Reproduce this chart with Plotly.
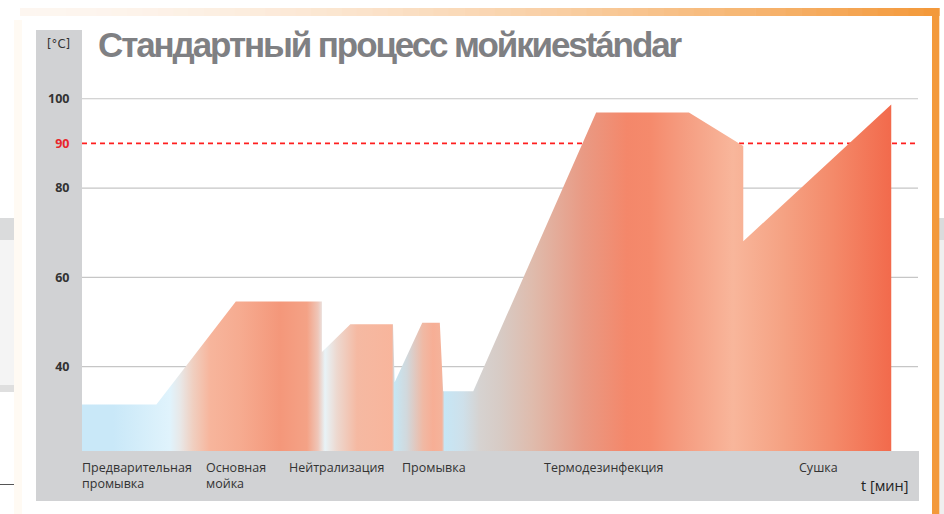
import plotly.graph_objects as go

# ---------------- data ----------------
time_min = [0.0, 8.9, 18.4, 28.7, 28.7, 32.1, 37.2, 37.4, 40.7, 42.8, 43.2, 46.8,
            61.5, 72.6, 79.1, 79.1, 96.8]
temperature_c = [31.5, 31.5, 54.6, 54.6, 43.3, 49.5, 49.5, 36.5, 49.8, 49.8, 34.5, 34.5,
                 96.9, 96.9, 89.4, 68.1, 98.7]

phase_labels = ["Предварительная<br>промывка", "Основная<br>мойка", "Нейтрализация",
                "Промывка", "Термодезинфекция", "Сушка"]
phase_label_t = [-0.24, 14.63, 24.49, 38.04, 54.99, 85.49]

y_ticks = [40, 60, 80, 90, 100]
y_grid = [40, 60, 80, 100]
limit_temp = 90

title_text = "Стандартный процесс мойкиestándar"
unit_y = "[°C]"
unit_x = "t [мин]"

# ---------------- layout geometry ----------------
W, H = 944, 514
L, R, T, B = 82, 918, 30, 451
X_RANGE = [0, 100]
Y_RANGE = [21.1, 115.4]


def px_x(px):
    return (px - L) / (R - L)


def px_y(py):
    return (B - py) / (B - T)


def t_paper(t):
    return (t - X_RANGE[0]) / (X_RANGE[1] - X_RANGE[0])


# horizontal gradient of the area (style)
grad_px = [
    (82, "#c9e8f8"), (113, "#c9e8f8"), (170, "#e0f3fc"), (180, "#e8e8e8"),
    (193, "#f0cfc0"), (210, "#f7b59c"), (240, "#f6ab90"), (280, "#f4977a"),
    (307, "#f4a286"), (318, "#efc6b8"), (325, "#e8f3f7"), (337, "#edd8cf"),
    (357, "#f5b9a2"), (392, "#f8b59c"), (394.5, "#c6e6f3"), (407, "#d1d8dc"),
    (423, "#f0b9a4"), (433, "#f7ae95"), (442, "#f5b39b"), (444.5, "#c6e6f5"),
    (463, "#cee0ea"), (480, "#d6d2d0"), (500, "#d7cbc5"), (533, "#dfbbac"),
    (583, "#e99a84"), (627, "#f4876a"), (650, "#f58a6c"), (683, "#f59c80"),
    (733, "#f8b69b"), (783, "#f5a283"), (833, "#f48a6a"), (891, "#f26a4c"),
]
colorscale = [[(p - L) / (R - L), c] for p, c in grad_px]
colorscale[0][0] = 0.0
colorscale.append([1.0, grad_px[-1][1]])

fig = go.Figure()
fig.add_trace(go.Scatter(
    x=time_min, y=temperature_c, mode="lines", line=dict(width=0),
    fill="tozeroy",
    fillgradient=dict(type="horizontal", colorscale=colorscale,
                      start=X_RANGE[0], stop=X_RANGE[1]),
    hoverinfo="skip", showlegend=False,
))

shapes = []
# decorative background bits (left / right of the frame)
shapes.append(dict(type="rect", xref="paper", yref="paper", x0=px_x(14), x1=px_x(22),
                   y0=px_y(514), y1=px_y(20), fillcolor="#fffaf3", line_width=0, layer="below"))
shapes.append(dict(type="rect", xref="paper", yref="paper", x0=px_x(0), x1=px_x(14),
                   y0=px_y(240), y1=px_y(218), fillcolor="#dadbdc", line_width=0, layer="below"))
shapes.append(dict(type="rect", xref="paper", yref="paper", x0=px_x(0), x1=px_x(14),
                   y0=px_y(385), y1=px_y(240), fillcolor="#f4f4f4", line_width=0, layer="below"))
shapes.append(dict(type="rect", xref="paper", yref="paper", x0=px_x(0), x1=px_x(14),
                   y0=px_y(392), y1=px_y(385), fillcolor="#dfdfdf", line_width=0, layer="below"))
shapes.append(dict(type="line", xref="paper", yref="paper", x0=px_x(0), x1=px_x(14),
                   y0=px_y(484.5), y1=px_y(484.5), line=dict(color="#555555", width=1), layer="below"))
shapes.append(dict(type="rect", xref="paper", yref="paper", x0=px_x(939), x1=px_x(944),
                   y0=px_y(240), y1=px_y(218), fillcolor="#dadbdc", line_width=0, layer="below"))
shapes.append(dict(type="rect", xref="paper", yref="paper", x0=px_x(939), x1=px_x(944),
                   y0=px_y(514), y1=px_y(240), fillcolor="#efefef", line_width=0, layer="below"))

# top gradient band of the frame
n_seg = 60
x_start, x_end = 20, 939
c0 = (253, 246, 240)
c1 = (243, 153, 59)
for i in range(n_seg):
    f = i / (n_seg - 1)
    f2 = f ** 1.6
    col = "rgb(%d,%d,%d)" % tuple(int(round(c0[k] + (c1[k] - c0[k]) * f2)) for k in range(3))
    xa = x_start + (x_end - x_start) * i / n_seg
    xb = x_start + (x_end - x_start) * (i + 1) / n_seg + 0.6
    shapes.append(dict(type="rect", xref="paper", yref="paper", x0=px_x(xa), x1=px_x(xb),
                       y0=px_y(16), y1=px_y(8), fillcolor=col, line_width=0, layer="below"))
# right orange bar
shapes.append(dict(type="rect", xref="paper", yref="paper", x0=px_x(932), x1=px_x(939.3),
                   y0=px_y(514), y1=px_y(8), fillcolor="#f3993b", line_width=0, layer="below"))

# grey y column & bottom band
shapes.append(dict(type="rect", xref="paper", yref="paper", x0=px_x(36), x1=px_x(82),
                   y0=px_y(501), y1=px_y(30), fillcolor="#d1d2d4", line_width=0, layer="below"))
shapes.append(dict(type="rect", xref="paper", yref="paper", x0=px_x(36), x1=px_x(919),
                   y0=px_y(501), y1=px_y(451), fillcolor="#d1d2d4", line_width=0, layer="below"))

# grid lines and limit line
for g in y_grid:
    shapes.append(dict(type="line", xref="paper", yref="y", x0=0, x1=1, y0=g, y1=g,
                       line=dict(color="#c6c6c6", width=1.2), layer="below"))
shapes.append(dict(type="line", xref="paper", yref="y", x0=0, x1=1, y0=limit_temp, y1=limit_temp,
                   line=dict(color="#ff1f1f", width=1.6, dash="5px,4px"), layer="below"))

ticktext = []
for v in y_ticks:
    if v == limit_temp:
        ticktext.append("<span style='color:#e8262c'>%d</span>" % v)
    else:
        ticktext.append(str(v))

narrow = "Liberation Sans Narrow, DejaVu Sans Condensed, Roboto Condensed, Arial Narrow, Roboto, sans-serif"

annotations = []
annotations.append(dict(text="<span style='letter-spacing:-2.1px'>%s</span>" % title_text,
                        xref="paper", yref="paper", x=px_x(96), y=px_y(44.5),
                        xanchor="left", yanchor="middle", showarrow=False,
                        font=dict(family="Liberation Sans, Arial, sans-serif", size=35,
                                  color="#7f8083", weight="bold")))
annotations.append(dict(text=unit_y, xref="paper", yref="paper", x=px_x(58.5), y=px_y(43),
                        xanchor="center", yanchor="middle", showarrow=False,
                        font=dict(family=narrow, size=13, color="#333333")))
for lab, t in zip(phase_labels, phase_label_t):
    annotations.append(dict(text=lab, xref="paper", yref="paper", x=t_paper(t), y=px_y(457),
                            xanchor="left", yanchor="top", align="left", showarrow=False,
                            font=dict(family="Open Sans", size=12.5, color="#333333")))
annotations.append(dict(text=unit_x, xref="paper", yref="paper", x=px_x(910), y=px_y(485),
                        xanchor="right", yanchor="middle", showarrow=False,
                        font=dict(family="Open Sans", size=14.5, color="#222222")))

fig.update_layout(
    width=W, height=H,
    margin=dict(l=L, r=W - R, t=T, b=H - B, pad=0),
    paper_bgcolor="white", plot_bgcolor="white",
    xaxis=dict(range=X_RANGE, visible=False, fixedrange=True),
    yaxis=dict(range=Y_RANGE, tickvals=y_ticks, ticktext=ticktext, showgrid=False,
               zeroline=False, showline=False, ticks="outside", ticklen=9,
               tickcolor="rgba(0,0,0,0)", fixedrange=True,
               tickfont=dict(family="Open Sans", size=12.5, color="#333333", weight="bold")),
    shapes=shapes, annotations=annotations, showlegend=False,
)

fig.write_html("out.html", config={"displayModeBar": False},
               post_script="document.body.style.margin='0';document.body.style.padding='0';")
